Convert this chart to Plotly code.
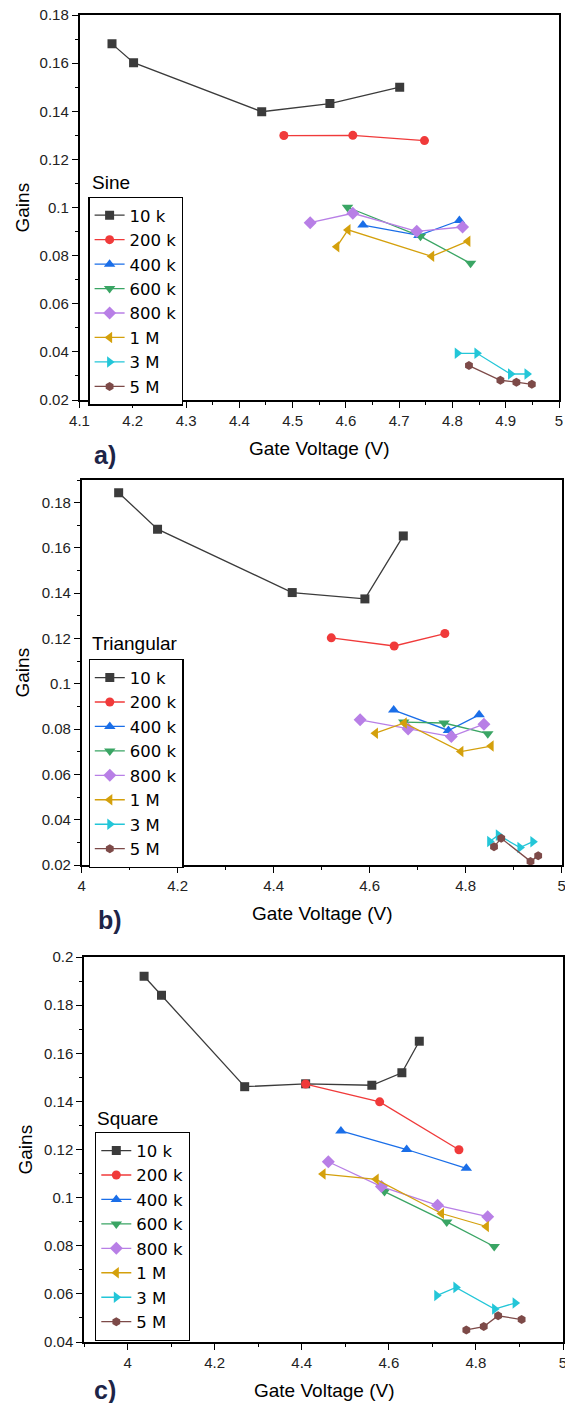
import plotly.graph_objects as go

W, H = 565, 1403

series_names = ["10 k", "200 k", "400 k", "600 k", "800 k", "1 M", "3 M", "5 M"]
colors = ["#3b3b3b", "#f03a3a", "#1a6ee8", "#3aa564", "#b87fe6", "#d4a00c", "#23c6d8", "#7d4a48"]
symbols = ["square", "circle", "triangle-up", "triangle-down", "diamond",
           "triangle-left", "triangle-right", "hexagon"]
marker_sizes = [9, 9, 10, 10, 10, 10, 10, 9]

# ---- Panel a) Sine ----
sine_x = [
    [4.161, 4.2015, 4.442, 4.570, 4.701],
    [4.4836, 4.613, 4.7475],
    [4.632, 4.737, 4.813],
    [4.603, 4.740, 4.834],
    [4.533, 4.613, 4.733, 4.819],
    [4.583, 4.604, 4.761, 4.829],
    [4.809, 4.846, 4.909, 4.940],
    [4.831, 4.890, 4.920, 4.949],
]
sine_y = [
    [0.168, 0.1602, 0.1398, 0.1432, 0.150],
    [0.1299, 0.130, 0.1278],
    [0.0927, 0.0884, 0.0946],
    [0.1001, 0.0880, 0.0768],
    [0.0937, 0.0976, 0.0901, 0.0919],
    [0.0837, 0.0907, 0.0797, 0.0860],
    [0.0394, 0.0394, 0.0308, 0.0308],
    [0.0343, 0.0282, 0.0274, 0.0265],
]

# ---- Panel b) Triangular ----
tri_x = [
    [4.077, 4.158, 4.4386, 4.590, 4.670],
    [4.520, 4.651, 4.7566],
    [4.650, 4.764, 4.828],
    [4.671, 4.755, 4.846],
    [4.580, 4.680, 4.770, 4.838],
    [4.612, 4.672, 4.790, 4.853],
    [4.850, 4.868, 4.913, 4.940],
    [4.859, 4.874, 4.935, 4.951],
]
tri_y = [
    [0.1844, 0.1683, 0.1403, 0.1375, 0.1653],
    [0.1203, 0.1167, 0.1222],
    [0.0884, 0.0794, 0.0863],
    [0.0831, 0.0827, 0.0780],
    [0.0841, 0.0801, 0.0767, 0.0822],
    [0.0782, 0.0827, 0.0701, 0.0725],
    [0.0304, 0.0332, 0.0277, 0.0303],
    [0.0281, 0.0318, 0.0216, 0.0241],
]

# ---- Panel c) Square ----
sq_x = [
    [4.038, 4.078, 4.269, 4.409, 4.561, 4.630, 4.670],
    [4.409, 4.579, 4.761],
    [4.490, 4.641, 4.778],
    [4.590, 4.733, 4.842],
    [4.461, 4.583, 4.712, 4.827],
    [4.449, 4.571, 4.721, 4.824],
    [4.710, 4.754, 4.843, 4.890],
    [4.778, 4.818, 4.851, 4.905],
]
sq_y = [
    [0.192, 0.1841, 0.1461, 0.1473, 0.1467, 0.1519, 0.165],
    [0.1472, 0.1398, 0.1199],
    [0.1277, 0.1200, 0.1122],
    [0.1025, 0.0899, 0.0797],
    [0.1149, 0.1046, 0.0968, 0.0921],
    [0.1098, 0.1076, 0.0934, 0.0880],
    [0.0593, 0.0627, 0.0537, 0.0562],
    [0.0450, 0.0464, 0.0509, 0.0493],
]

panel_titles = ["Sine", "Triangular", "Square"]
panel_letters = ["a)", "b)", "c)"]

FONT = "Liberation Sans, Arial, sans-serif"
LEGFONT = "DejaVu Sans, Liberation Sans, sans-serif"

# pixel boxes of plot areas: (left, right, top, bottom)
boxes = [(79.5, 559, 15, 400), (81.7, 561.7, 480, 865), (84, 563, 957, 1342)]
xranges = [[4.1, 5], [4, 5], [3.9, 5]]
yranges = [[0.02, 0.18], [0.02, 0.19], [0.04, 0.2]]
xdticks = [0.1, 0.2, 0.2]
xminor = [0.05, 0.1, 0.1]
legend_pos = [(88.3, 196.7), (88.5, 659), (95, 1132)]
title_pos = [(90, 182), (90, 643), (95, 1118)]
letter_pos = [(105, 455), (110, 920), (105, 1390)]
xtitle_y = [448, 913, 1390]
ytitle_x = [22, 22, 25]

datasets = [(sine_x, sine_y), (tri_x, tri_y), (sq_x, sq_y)]

fig = go.Figure()

def px(x):
    return x / W

def py(y):
    return 1 - y / H

annotations = []
layout = {}
for p in range(3):
    xs, ys = datasets[p]
    suffix = "" if p == 0 else str(p + 1)
    legname = "legend" + suffix
    for i, name in enumerate(series_names):
        fig.add_trace(go.Scatter(
            x=xs[i], y=ys[i], mode="lines+markers", name=name,
            line=dict(color=colors[i], width=1.3),
            marker=dict(symbol=symbols[i], color=colors[i], size=marker_sizes[i]),
            xaxis="x" + suffix, yaxis="y" + suffix,
            legend=legname, showlegend=True,
        ))
    l, r, t, b = boxes[p]
    axis_common = dict(
        showgrid=False, zeroline=False, showline=True, linecolor="black",
        linewidth=1.5, mirror=True, ticks="outside", ticklen=6, tickwidth=1.3,
        tickcolor="black", tickfont=dict(family=FONT, size=15, color="#222"),
        automargin=False, ticklabeloverflow="allow",
    )
    layout["xaxis" + suffix] = dict(
        domain=[px(l), px(r)], range=xranges[p], dtick=xdticks[p], tick0=4,
        anchor="y" + suffix,
        minor=dict(dtick=xminor[p], ticks="outside", ticklen=3, tickcolor="black", tickwidth=1.2),
        **axis_common)
    layout["yaxis" + suffix] = dict(
        domain=[py(b), py(t)], range=yranges[p], dtick=0.02, tick0=0,
        anchor="x" + suffix,
        minor=dict(dtick=0.01, ticks="outside", ticklen=3, tickcolor="black", tickwidth=1.2),
        **axis_common)
    lx, ly = legend_pos[p]
    layout[legname] = dict(
        x=px(lx), y=py(ly), xanchor="left", yanchor="top",
        bgcolor="white", bordercolor="black", borderwidth=1.3,
        font=dict(family=LEGFONT, size=16.5, color="black"),
        tracegroupgap=0, itemclick=False,
    )
    tx, ty = title_pos[p]
    annotations.append(dict(text=panel_titles[p], x=px(tx), y=py(ty), xref="paper", yref="paper",
                            xanchor="left", yanchor="middle", showarrow=False,
                            font=dict(family=FONT, size=19, color="black")))
    lx2, ly2 = letter_pos[p]
    annotations.append(dict(text="<b>" + panel_letters[p] + "</b>", x=px(lx2), y=py(ly2),
                            xref="paper", yref="paper", xanchor="center", yanchor="middle",
                            showarrow=False, font=dict(family=FONT, size=25, color="#1d2447")))
    annotations.append(dict(text="Gate Voltage (V)", x=px((l + r) / 2), y=py(xtitle_y[p]),
                            xref="paper", yref="paper", xanchor="center", yanchor="middle",
                            showarrow=False, font=dict(family=FONT, size=19, color="black")))
    annotations.append(dict(text="Gains", x=px(ytitle_x[p]), y=py((t + b) / 2), textangle=-90,
                            xref="paper", yref="paper", xanchor="center", yanchor="middle",
                            showarrow=False, font=dict(family=FONT, size=19, color="black")))

fig.update_layout(
    width=W, height=H, margin=dict(l=0, r=0, t=0, b=0, autoexpand=False),
    paper_bgcolor="white", plot_bgcolor="white", hovermode=False,
    annotations=annotations, font=dict(family=FONT), **layout,
)

fig.write_html("out.html", config={"displayModeBar": False},
               post_script="document.body.style.margin='0';document.body.style.overflow='hidden';")
